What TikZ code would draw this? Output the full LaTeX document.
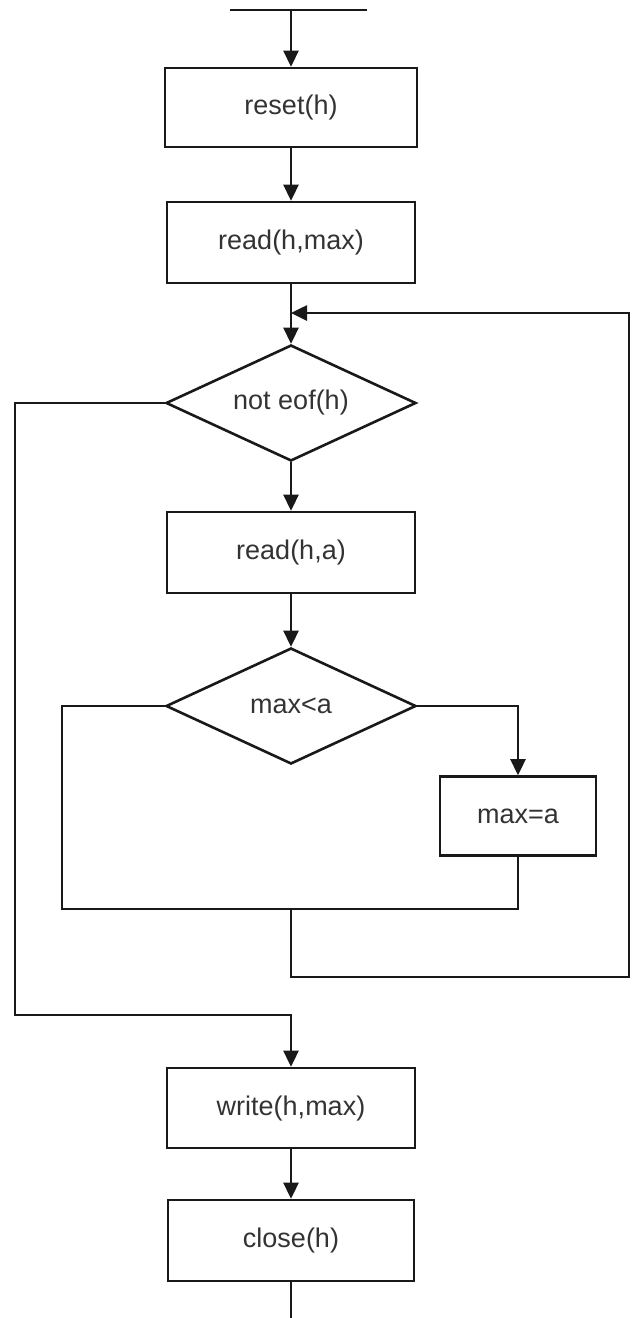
\documentclass[tikz,border=0pt]{standalone}
\usepackage{fontspec}
\setmainfont{Liberation Sans}
\usetikzlibrary{shapes.geometric,arrows.meta}
\begin{document}
\begin{tikzpicture}[x=1pt,y=-1pt,
  line width=2.6pt, color=black!90,
  proc/.style={draw, rectangle, inner sep=0pt, text=black!80,
    font=\fontsize{27}{32}\selectfont},
  cond/.style={draw, diamond, aspect=2.15, inner sep=0pt, text=black!80,
    minimum width=250pt, minimum height=116pt, font=\fontsize{27}{32}\selectfont},
  arr/.style={-{Triangle[length=16pt,width=15pt]}}]
  \useasboundingbox (0,0) rectangle (635,1318);

  % processing blocks
  \node[proc, minimum width=252pt, minimum height=79pt] (reset) at (291,107.5) {reset(h)};
  \node[proc, minimum width=248pt, minimum height=81pt] (readmax) at (291,242.5) {read(h,max)};
  \node[cond] (noteof) at (291,403) {not eof(h)};
  \node[proc, minimum width=248pt, minimum height=81pt] (reada) at (291,552.5) {read(h,a)};
  \node[cond] (less) at (291,706) {max<a};
  \node[proc, minimum width=156pt, minimum height=79pt] (assign) at (518,816) {max=a};
  \node[proc, minimum width=248pt, minimum height=80pt] (write) at (291,1108) {write(h,max)};
  \node[proc, minimum width=246pt, minimum height=81pt] (close) at (291,1240.5) {close(h)};

  % entry bar and exit
  \coordinate (barL) at (230,10);
  \coordinate (barR) at (367,10);
  \coordinate (barM) at (291,10);
  \coordinate (exit) at (291,1318);

  % loop and branch corners
  \coordinate (loopin) at (291,313);
  \coordinate (joinL) at (62,909);
  \coordinate (joinM) at (291,909);
  \coordinate (backA) at (291,977);
  \coordinate (backB) at (629,977);
  \coordinate (backC) at (629,313);
  \coordinate (outA) at (15,403);
  \coordinate (outB) at (15,1015);
  \coordinate (outC) at (291,1015);

  \draw (barL) -- (barR);
  \draw[arr] (barM) -- (reset.north);
  \draw[arr] (reset.south) -- (readmax.north);
  \draw[arr] (readmax.south) -- (noteof.north);
  \draw[arr] (noteof.south) -- (reada.north);
  \draw[arr] (reada.south) -- (less.north);
  \draw[arr] (less.east) -| (assign.north);
  \draw (less.west) -| (joinL) -- (assign.south |- joinL) -- (assign.south);
  \draw[arr] (joinM) -- (backA) -- (backB) -- (backC) -- (loopin);
  \draw[arr] (noteof.west) -- (outA) -- (outB) -- (outC) -- (write.north);
  \draw[arr] (write.south) -- (close.north);
  \draw (close.south) -- (exit);
\end{tikzpicture}
\end{document}
